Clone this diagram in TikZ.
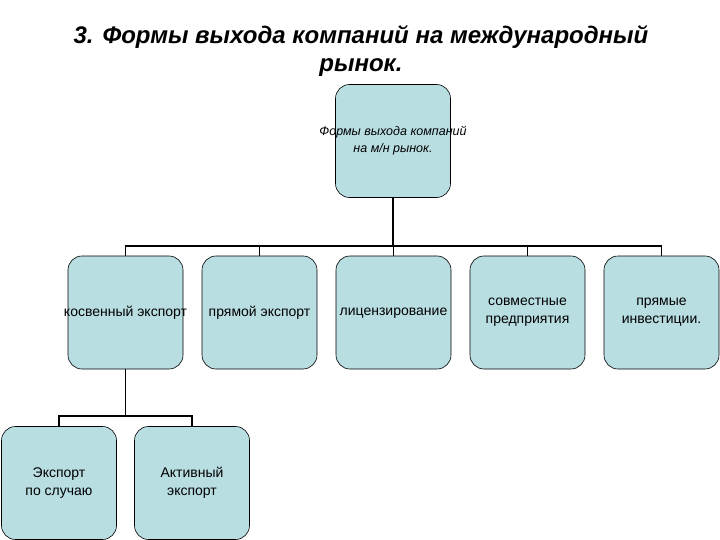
\documentclass[tikz,border=0pt]{standalone}
\usepackage{fontspec}
\setmainfont{Liberation Sans}
\definecolor{boxfill}{RGB}{185,222,226}
\begin{document}
\begin{tikzpicture}[x=1pt,y=-1pt,
  box/.style={draw=black,fill=boxfill,rounded corners=14pt,minimum width=115pt,minimum height=113pt,line width=0.6pt},
  lbl/.style={font=\fontsize{14}{18}\selectfont,align=center},
  conn/.style={line width=1.6pt}]
\useasboundingbox (0,0) rectangle (720,540);
\node[font=\fontsize{24}{28}\selectfont\bfseries\itshape,align=center] (title) at (361,51) {3. Формы выхода компаний на международный\\рынок.};
\node[box] (root) at (393,141) {};
\node[lbl,font=\fontsize{12.5}{17}\selectfont\itshape] (roott) at (393,141) {Формы выхода компаний\\на м/н рынок.};
\node[box] (b1) at (125.5,312.5) {};
\node[box] (b2) at (259.5,312.5) {};
\node[box] (b3) at (393.5,312.5) {};
\node[box] (b4) at (527.5,312.5) {};
\node[box] (b5) at (661.5,312.5) {};
\node[lbl] (t1) at (125.5,313) {косвенный экспорт};
\node[lbl] (t2) at (259.5,313) {прямой экспорт};
\node[lbl] (t3) at (393.5,313) {лицензирование};
\node[lbl] (t4) at (527.5,312) {совместные\\предприятия};
\node[lbl] (t5) at (661.5,312) {прямые\\инвестиции.};
\node[box] (c1) at (59,483) {};
\node[box] (c2) at (192,483) {};
\node[lbl] (u1) at (59,483) {Экспорт\\по случаю};
\node[lbl] (u2) at (192,483) {Активный\\экспорт};
\coordinate (h1) at (393,246);
\draw[conn] (root.south) -- (h1);
\draw[conn] (b1.north) -- ++(0,-10) -| (b5.north);
\foreach \n in {b2,b3,b4} \draw[conn] (\n.north) -- ++(0,-10);
\coordinate (h2) at (125.5,416);
\draw[conn] (b1.south) -- (h2);
\draw[conn] (c1.north) -- ++(0,-10) -| (c2.north);
\end{tikzpicture}
\end{document}
